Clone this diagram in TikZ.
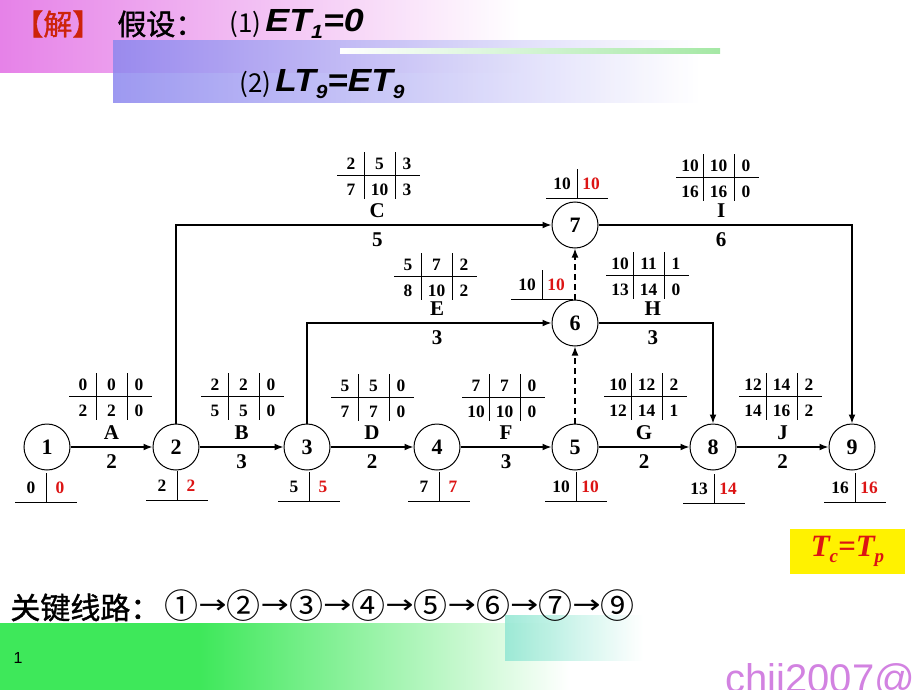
\documentclass[tikz,border=0pt]{standalone}
\usepackage{fontspec}
\usepackage{graphicx}
\setmainfont{Liberation Serif}
\newfontfamily\cjk[FakeBold=1.2]{Noto Sans CJK SC}
\newfontfamily\cjkc{Noto Sans CJK SC}
\newfontfamily\arial{Liberation Sans}
\newfontfamily\dejavu{DejaVu Sans}
\usetikzlibrary{arrows.meta}

\definecolor{hdrpink}{RGB}{230,130,232}
\definecolor{hdrblue}{RGB}{140,135,238}
\definecolor{hdrgreen}{RGB}{165,232,165}
\definecolor{jiered}{RGB}{205,35,10}
\definecolor{ltred}{RGB}{220,20,20}
\definecolor{ftgreen}{RGB}{62,232,90}
\definecolor{ftteal}{RGB}{150,232,212}
\definecolor{wmpurple}{RGB}{210,130,225}

\tikzset{
  event/.style={circle,draw,line width=0.5pt,minimum size=23pt,inner sep=0pt,
    font=\fontsize{11}{11}\selectfont\bfseries},
  arr/.style={line width=0.6pt,-{Latex[length=4.5pt,width=3.4pt]}},
  dummy/.style={arr,dash pattern=on 3pt off 2pt},
  actname/.style={font=\fontsize{10.5}{10.5}\selectfont\bfseries,yshift=7pt},
  actdur/.style={font=\fontsize{10.5}{10.5}\selectfont\bfseries,yshift=-7.5pt},
  tabline/.style={line width=0.5pt},
  tabnum/.style={font=\fontsize{8.7}{8.7}\selectfont\bfseries,inner sep=0pt},
  ltnum/.style={tabnum,text=ltred},
  heading/.style={anchor=west,inner sep=0pt}
}

% six-parameter table: name, centre of the middle line, ES LS TF / EF LF FF
\newcommand{\worktab}[8]{%
  \begin{scope}[shift={#2}]
    \draw[tabline] (-41,0) -- (42,0);
    \draw[tabline] (-14,-23) -- (-14,24);
    \draw[tabline] (17,-23) -- (17,24);
    \node[tabnum] (#1es) at (-27,-11) {#3};
    \node[tabnum] (#1ls) at (1.5,-11) {#4};
    \node[tabnum] (#1tf) at (29,-11) {#5};
    \node[tabnum] (#1ef) at (-27,15) {#6};
    \node[tabnum] (#1lf) at (1.5,15) {#7};
    \node[tabnum] (#1ff) at (29,15) {#8};
  \end{scope}}

% event times: name, foot of the divider, ET, LT
\newcommand{\eventtab}[4]{%
  \begin{scope}[shift={#2}]
    \draw[tabline] (-31,0) -- (31,0);
    \draw[tabline] (0,0) -- (0,-29);
    \node[tabnum] (#1et) at (-15,-14) {#3};
    \node[ltnum] (#1lt) at (14,-14) {#4};
  \end{scope}}

\newcommand{\sub}[1]{\raisebox{-0.4ex}{\fontsize{9.5}{9.5}\selectfont #1}}
\newcommand{\cev}[1]{{\cjkc\fontsize{17}{17}\selectfont #1}}
\newcommand{\critto}{\raisebox{2.6pt}{\scalebox{1.3}[1]{\dejavu\fontsize{13}{13}\selectfont →}}}

\begin{document}
\begin{tikzpicture}[x=0.5pt,y=-0.5pt]
  \useasboundingbox (0,0) rectangle (920,690);
  \clip (0,0) rectangle (920,690);

  % slide background
  \shade[left color=hdrpink,right color=white] (0,0) rectangle (520,73);
  \shade[left color=hdrblue,right color=white,opacity=0.85] (113,41) rectangle (700,103);
  \shade[left color=white,right color=hdrgreen] (340,49) rectangle (720,54);
  \fill[ftgreen] (0,623) rectangle (200,690);
  \shade[left color=ftgreen,right color=white] (199,623) rectangle (570,690);
  \shade[left color=ftteal,right color=white,opacity=0.9] (505,615) rectangle (643,660);

  % heading
  \node[heading,text=jiered,font=\cjk\fontsize{14.5}{14.5}\selectfont] (jie) at (14,24) {【解】};
  \node[heading,font=\cjk\fontsize{14.5}{14.5}\selectfont] (jiashe) at (117,24) {假设：};
  \node[heading,font=\cjkc\fontsize{13}{13}\selectfont] (as1no) at (229,24) {(1)};
  \node[heading,font=\arial\bfseries\itshape\fontsize{16}{16}\selectfont] (as1) at (265,24)
    {\scalebox{1.12}[1]{ET\sub{1}=0}};
  \node[heading,font=\cjkc\fontsize{13}{13}\selectfont] (as2no) at (239,84) {(2)};
  \node[heading,font=\arial\bfseries\itshape\fontsize{16}{16}\selectfont] (as2) at (275,84)
    {\scalebox{1.1}[1]{LT\sub{9}=ET\sub{9}}};

  % events
  \node[event] (n1) at (47,447) {1};
  \node[event] (n2) at (176,447) {2};
  \node[event] (n3) at (307,447) {3};
  \node[event] (n4) at (437,447) {4};
  \node[event] (n5) at (575,447) {5};
  \node[event] (n6) at (575,323) {6};
  \node[event] (n7) at (575,225) {7};
  \node[event] (n8) at (713,447) {8};
  \node[event] (n9) at (852,447) {9};

  % activities
  \draw[arr] (n1) -- node[actname]{A} node[actdur]{2} (n2);
  \draw[arr] (n2) -- node[actname]{B} node[actdur]{3} (n3);
  \draw[arr] (n3) -- node[actname]{D} node[actdur]{2} (n4);
  \draw[arr] (n4) -- node[actname]{F} node[actdur]{3} (n5);
  \draw[arr] (n5) -- node[actname]{G} node[actdur]{2} (n8);
  \draw[arr] (n8) -- node[actname]{J} node[actdur]{2} (n9);
  \draw[arr] (n2) |- node[actname,pos=0.768]{C} node[actdur,pos=0.768]{5} (n7);
  \draw[arr] (n3) |- node[actname,pos=0.766]{E} node[actdur,pos=0.766]{3} (n6);
  \draw[arr] (n6) -| node[actname,pos=0.237]{H} node[actdur,pos=0.237]{3} (n8);
  \draw[arr] (n7) -| node[actname,pos=0.242]{I} node[actdur,pos=0.242]{6} (n9);
  \draw[dummy] (n5) -- (n6);
  \draw[dummy] (n6) -- (n7);

  % time parameters
  \worktab{tA}{(110,396)}{0}{0}{0}{2}{2}{0}
  \worktab{tB}{(242,396)}{2}{2}{0}{5}{5}{0}
  \worktab{tD}{(372,397)}{5}{5}{0}{7}{7}{0}
  \worktab{tF}{(503,397)}{7}{7}{0}{10}{10}{0}
  \worktab{tG}{(645,396)}{10}{12}{2}{12}{14}{1}
  \worktab{tJ}{(780,396)}{12}{14}{2}{14}{16}{2}
  \worktab{tC}{(378,175)}{2}{5}{3}{7}{10}{3}
  \worktab{tE}{(435,276)}{5}{7}{2}{8}{10}{2}
  \worktab{tH}{(647,275)}{10}{11}{1}{13}{14}{0}
  \worktab{tI}{(717,177)}{10}{10}{0}{16}{16}{0}

  \eventtab{e1}{(46,502)}{0}{0}
  \eventtab{e2}{(177,500)}{2}{2}
  \eventtab{e3}{(309,501)}{5}{5}
  \eventtab{e4}{(439,501)}{7}{7}
  \eventtab{e5}{(576,501)}{10}{10}
  \eventtab{e8}{(714,503)}{13}{14}
  \eventtab{e9}{(855,502)}{16}{16}
  \eventtab{e7}{(577,198)}{10}{10}
  \eventtab{e6}{(542,299)}{10}{10}

  \node[fill=yellow,minimum width=57.5pt,minimum height=22.5pt,text=ltred,
    font=\bfseries\itshape\fontsize{15.5}{15.5}\selectfont] (tctp) at (847.5,551.5)
    {T\sub{c}=T\sub{p}};

  % critical path and footer
  \node[heading,font=\cjk\fontsize{15}{15}\selectfont] (crit) at (10,606)
    {关键线路：\hspace{2pt}\cev{①}\critto\cev{②}\critto\cev{③}\critto\cev{④}\critto
     \cev{⑤}\critto\cev{⑥}\critto\cev{⑦}\critto\cev{⑨}};
  \node[font=\arial\fontsize{8}{8}\selectfont] (pgno) at (18,658) {1};
  \node[anchor=base west,inner sep=0pt,text=wmpurple,font=\arial\fontsize{20}{20}\selectfont] (wm) at (725,692) {chii2007@};
\end{tikzpicture}
\end{document}
